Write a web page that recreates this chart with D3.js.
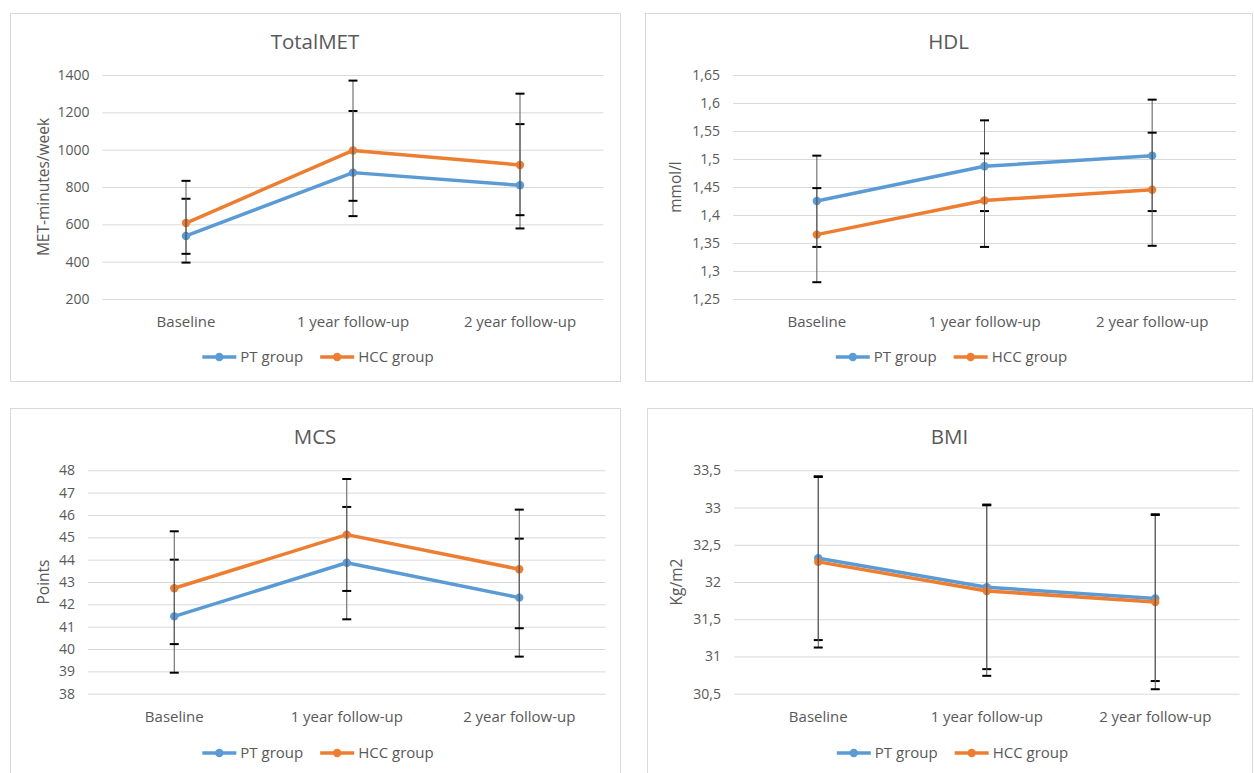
<!DOCTYPE html>
<html>
<head>
<meta charset="utf-8">
<script src="https://cdn.jsdelivr.net/npm/d3@7"></script>
<style>
  body { margin: 0; background: #fff; }
  text { font-family: "Open Sans", sans-serif; fill: #595959; }
</style>
</head>
<body>
<script>
const categories = ["Baseline", "1 year follow-up", "2 year follow-up"];
const seriesNames = ["PT group", "HCC group"];
const seriesColors = ["#5b9bd5", "#ed7d31"];

// TotalMET
const metPT = [538, 877, 809];
const metHCC = [607, 996, 918];
const metPTUpper = [737, 1207, 1137];
const metPTLower = [395, 644, 578];
const metHCCUpper = [833, 1370, 1300];
const metHCCLower = [442, 726, 649];
const metTicks = [200, 400, 600, 800, 1000, 1200, 1400];

// HDL
const hdlPT = [1.425, 1.487, 1.506];
const hdlHCC = [1.365, 1.426, 1.445];
const hdlPTUpper = [1.506, 1.569, 1.606];
const hdlPTLower = [1.343, 1.407, 1.407];
const hdlHCCUpper = [1.448, 1.510, 1.547];
const hdlHCCLower = [1.280, 1.343, 1.345];
const hdlTicks = [1.25, 1.3, 1.35, 1.4, 1.45, 1.5, 1.55, 1.6, 1.65];

// MCS
const mcsPT = [41.46, 43.86, 42.30];
const mcsHCC = [42.72, 45.12, 43.57];
const mcsPTUpper = [44.0, 46.36, 44.94];
const mcsPTLower = [38.94, 41.33, 39.66];
const mcsHCCUpper = [45.27, 47.61, 46.24];
const mcsHCCLower = [40.22, 42.60, 40.93];
const mcsTicks = [38, 39, 40, 41, 42, 43, 44, 45, 46, 47, 48];

// BMI
const bmiPT = [32.32, 31.93, 31.78];
const bmiHCC = [32.27, 31.88, 31.73];
const bmiPTUpper = [33.42, 33.04, 32.91];
const bmiPTLower = [31.22, 30.83, 30.67];
const bmiHCCUpper = [33.41, 33.03, 32.90];
const bmiHCCLower = [31.12, 30.74, 30.56];
const bmiTicks = [30.5, 31, 31.5, 32, 32.5, 33, 33.5];

const width = 1254;
const height = 773;

const fmt = d3.formatLocale({ decimal: ",", thousands: "", grouping: [3], currency: ["", ""] }).format("~g");

const panels = [
  {
    title: "TotalMET", yTitle: "MET-minutes/week", ticks: metTicks,
    series: [[metPT, metPTLower, metPTUpper], [metHCC, metHCCLower, metHCCUpper]],
    box: { x: 10, y: 13, w: 610, h: 368 },
    plot: { left: 102.5, right: 603.5, top: 75, bottom: 299 },
    yTitleX: 44, titleY: 42, catY: 322, legendY: 357
  },
  {
    title: "HDL", yTitle: "mmol/l", ticks: hdlTicks,
    series: [[hdlPT, hdlPTLower, hdlPTUpper], [hdlHCC, hdlHCCLower, hdlHCCUpper]],
    box: { x: 645, y: 13, w: 607, h: 368 },
    plot: { left: 733, right: 1236, top: 75, bottom: 299 },
    yTitleX: 676, titleY: 42, catY: 322, legendY: 357
  },
  {
    title: "MCS", yTitle: "Points", ticks: mcsTicks,
    series: [[mcsPT, mcsPTLower, mcsPTUpper], [mcsHCC, mcsHCCLower, mcsHCCUpper]],
    box: { x: 10, y: 408, w: 610, h: 368 },
    plot: { left: 88, right: 605.5, top: 470.3, bottom: 693.7 },
    yTitleX: 44, titleY: 437, catY: 717, legendY: 753
  },
  {
    title: "BMI", yTitle: "Kg/m2", ticks: bmiTicks,
    series: [[bmiPT, bmiPTLower, bmiPTUpper], [bmiHCC, bmiHCCLower, bmiHCCUpper]],
    box: { x: 647, y: 408, w: 605, h: 368 },
    plot: { left: 734, right: 1239.5, top: 470.3, bottom: 693.7 },
    yTitleX: 677, titleY: 437, catY: 717, legendY: 753
  }
];

const svg = d3.select("body")
  .append("svg")
  .attr("width", width)
  .attr("height", height);

panels.forEach(drawPanel);

function drawPanel(p) {
  const g = svg.append("g");

  g.append("rect")
    .attr("x", p.box.x + 0.5)
    .attr("y", p.box.y + 0.5)
    .attr("width", p.box.w)
    .attr("height", p.box.h)
    .attr("fill", "#fff")
    .attr("stroke", "#d9d9d9");

  const x = d3.scaleBand()
    .domain(categories)
    .range([p.plot.left, p.plot.right]);

  const y = d3.scaleLinear()
    .domain(d3.extent(p.ticks))
    .range([p.plot.bottom, p.plot.top]);

  const cx = c => x(c) + x.bandwidth() / 2;

  // gridlines + y labels
  const yAxis = d3.axisLeft(y)
    .tickValues(p.ticks)
    .tickFormat(fmt)
    .tickSize(-(p.plot.right - p.plot.left))
    .tickPadding(13);

  g.append("g")
    .attr("transform", `translate(${p.plot.left},0)`)
    .call(yAxis)
    .call(a => a.select(".domain").remove())
    .call(a => a.selectAll(".tick line").attr("stroke", "#d9d9d9"))
    .call(a => a.selectAll(".tick text")
      .attr("font-size", "14px")
      .attr("font-family", null)
      .attr("fill", "#595959"));

  // x labels
  const xAxis = d3.axisBottom(x).tickSize(0).tickPadding(0);
  g.append("g")
    .attr("transform", `translate(0,${p.catY})`)
    .call(xAxis)
    .call(a => a.select(".domain").remove())
    .call(a => a.selectAll(".tick text")
      .attr("font-size", "15px")
      .attr("font-family", null)
      .attr("dy", "0.35em")
      .attr("y", 0)
      .attr("fill", "#595959"));

  // title
  g.append("text")
    .attr("x", p.box.x + p.box.w / 2)
    .attr("y", p.titleY)
    .attr("text-anchor", "middle")
    .attr("dy", "0.35em")
    .attr("font-size", "20.5px")
    .text(p.title);

  // y title
  g.append("text")
    .attr("transform", `translate(${p.yTitleX},${(p.plot.top + p.plot.bottom) / 2}) rotate(-90)`)
    .attr("text-anchor", "middle")
    .attr("dy", "0.35em")
    .attr("font-size", "15.5px")
    .text(p.yTitle);

  const line = d3.line()
    .x((d, i) => cx(categories[i]))
    .y(d => y(d));

  // series lines and markers
  p.series.forEach(([vals], si) => {
    g.append("path")
      .datum(vals)
      .attr("fill", "none")
      .attr("stroke", seriesColors[si])
      .attr("stroke-width", 3.5)
      .attr("stroke-linejoin", "round")
      .attr("d", line);

    g.selectAll(null)
      .data(vals)
      .join("circle")
      .attr("cx", (d, i) => cx(categories[i]))
      .attr("cy", d => y(d))
      .attr("r", 4.2)
      .attr("fill", seriesColors[si]);
  });

  // error bars
  p.series.forEach(([vals, lower, upper]) => {
    const eb = g.append("g");
    eb.selectAll("line.v")
      .data(vals)
      .join("line")
      .attr("x1", (d, i) => cx(categories[i]))
      .attr("x2", (d, i) => cx(categories[i]))
      .attr("y1", (d, i) => y(lower[i]))
      .attr("y2", (d, i) => y(upper[i]))
      .attr("stroke", "#595959")
      .attr("stroke-width", 1);

    [lower, upper].forEach(arr => {
      eb.selectAll(null)
        .data(arr)
        .join("line")
        .attr("x1", (d, i) => cx(categories[i]) - 4.5)
        .attr("x2", (d, i) => cx(categories[i]) + 4.5)
        .attr("y1", d => y(d))
        .attr("y2", d => y(d))
        .attr("stroke", "#000")
        .attr("stroke-width", 2);
    });
  });

  // legend
  const leg = g.append("g");
  let offset = 0;
  seriesNames.forEach((name, si) => {
    const item = leg.append("g").attr("transform", `translate(${offset},0)`);
    item.append("line")
      .attr("x1", 0).attr("x2", 34)
      .attr("stroke", seriesColors[si])
      .attr("stroke-width", 3.5);
    item.append("circle")
      .attr("cx", 17).attr("r", 4.2)
      .attr("fill", seriesColors[si]);
    const t = item.append("text")
      .attr("x", 38)
      .attr("dy", "0.35em")
      .attr("font-size", "15px")
      .text(name);
    offset += 38 + t.node().getComputedTextLength() + 17;
  });
  const legWidth = offset - 17;
  const start = p.box.x + p.box.w / 2 - legWidth / 2 + 3;
  leg.attr("transform", `translate(${start},${p.legendY})`);
}
</script>
</body>
</html>
